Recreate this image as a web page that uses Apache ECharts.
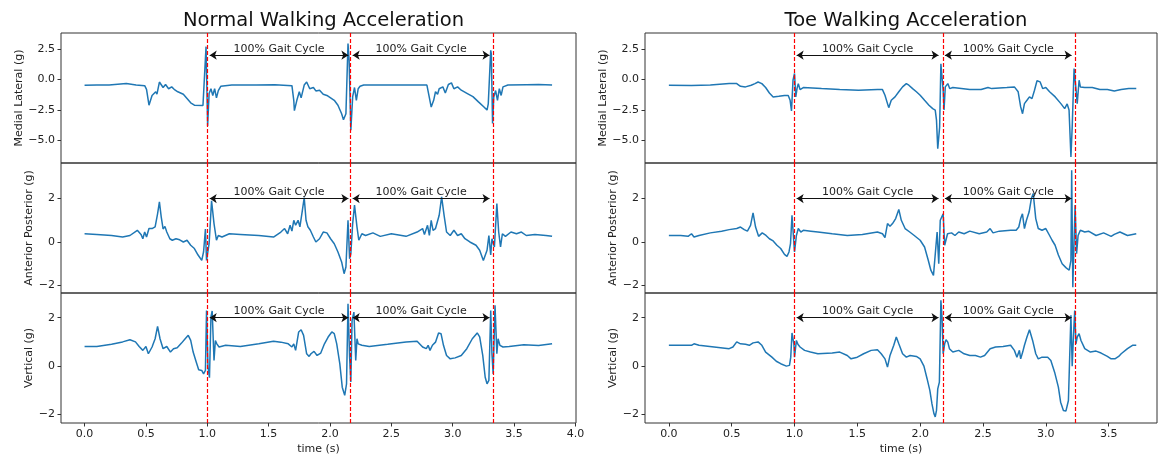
<!DOCTYPE html>
<html>
<head>
<meta charset="utf-8">
<script src="https://cdn.jsdelivr.net/npm/echarts@6/dist/echarts.min.js"></script>
<style>html,body{margin:0;padding:0;background:#fff}#c{width:1163px;height:464px}</style>
</head>
<body>
<div id="c"></div>
<script>
// ---------------- data ----------------
const panelTitles = ['Normal Walking Acceleration', 'Toe Walking Acceleration'];
const rowNames = ['Medial Lateral (g)', 'Anterior Posterior (g)', 'Vertical (g)'];
const normalTimeTicks = [0, 0.5, 1.0, 1.5, 2.0, 2.5, 3.0, 3.5, 4.0];
const toeTimeTicks = [0, 0.5, 1.0, 1.5, 2.0, 2.5, 3.0, 3.5];
const mlTicks = [-5, -2.5, 0, 2.5];
const apTicks = [-2, 0, 2];
const vTicks = [-2, 0, 2];
const normalEvents = [1.0, 2.165, 3.33];
const toeEvents = [1.0, 2.18, 3.235];
const normalArrows = [[1.02, 2.15], [2.185, 3.30]];
const toeArrows = [[1.017, 2.146], [2.197, 3.205]];
const arrowLevel = 2.0;
const arrowText = '100% Gait Cycle';

const normalML = [[0,-0.46],[0.1,-0.45],[0.2,-0.44],[0.34,-0.33],[0.42,-0.44],[0.49,-0.5],[0.505,-0.8],[0.525,-2.1],[0.55,-1.3],[0.58,-1.0],[0.59,-1.2],[0.61,-0.2],[0.64,-0.65],[0.66,-0.4],[0.685,-0.75],[0.71,-0.6],[0.73,-0.8],[0.76,-1.0],[0.805,-1.2],[0.835,-1.55],[0.865,-1.9],[0.895,-2.1],[0.965,-2.13],[0.98,-1.97],[0.99,2.7],[1.003,-3.8],[1.015,-1.15],[1.03,-0.75],[1.045,-1.3],[1.06,-0.74],[1.075,-1.5],[1.09,-0.9],[1.11,-0.55],[1.2,-0.45],[1.4,-0.44],[1.55,-0.42],[1.69,-0.5],[1.705,-1.7],[1.71,-2.55],[1.73,-1.7],[1.75,-1.0],[1.765,-1.5],[1.79,-0.45],[1.81,-0.2],[1.835,-0.75],[1.865,-0.65],[1.885,-0.93],[1.915,-0.87],[1.945,-1.2],[1.975,-1.3],[2.005,-1.5],[2.035,-1.7],[2.065,-2.1],[2.095,-2.8],[2.11,-3.3],[2.13,-2.8],[2.147,2.95],[2.156,1.6],[2.17,-4.15],[2.185,-1.4],[2.2,-0.65],[2.215,-1.7],[2.23,-0.75],[2.245,-0.55],[2.275,-0.45],[2.5,-0.44],[2.79,-0.45],[2.80,-0.6],[2.825,-2.25],[2.845,-1.7],[2.86,-1.0],[2.877,-1.2],[2.89,-0.75],[2.92,-0.6],[2.94,-1.1],[2.965,-0.4],[2.99,-0.27],[3.01,-0.75],[3.04,-0.6],[3.07,-0.87],[3.12,-1.15],[3.165,-1.4],[3.21,-1.83],[3.255,-2.25],[3.28,-2.5],[3.29,-2.0],[3.31,2.4],[3.315,2.1],[3.325,-3.6],[3.335,-1.4],[3.35,-0.9],[3.365,-1.7],[3.38,-0.75],[3.395,-1.3],[3.41,-0.6],[3.45,-0.45],[3.6,-0.42],[3.7,-0.4],[3.81,-0.45]];
const normalAP = [[0,0.38],[0.1,0.35],[0.22,0.3],[0.31,0.23],[0.37,0.3],[0.43,0.54],[0.46,0.35],[0.475,0.15],[0.49,0.46],[0.505,0.23],[0.525,0.62],[0.55,0.62],[0.575,0.7],[0.595,1.3],[0.61,1.85],[0.625,1.15],[0.64,0.6],[0.655,0.72],[0.67,0.46],[0.695,0.15],[0.715,0.08],[0.745,0.15],[0.775,0.1],[0.805,0],[0.835,0.08],[0.865,-0.15],[0.895,-0.3],[0.925,-0.6],[0.955,-0.85],[0.97,-0.45],[0.985,0.6],[0.994,-0.85],[1.015,-0.08],[1.035,1.9],[1.055,0.85],[1.075,0.08],[1.09,0.3],[1.12,0.23],[1.18,0.38],[1.27,0.35],[1.42,0.3],[1.54,0.23],[1.6,0.46],[1.63,0.62],[1.655,0.38],[1.675,0.77],[1.69,0.5],[1.705,1.0],[1.72,0.77],[1.74,1.0],[1.755,0.7],[1.775,1.46],[1.79,2.05],[1.805,1.0],[1.82,0.7],[1.84,0.54],[1.865,0.23],[1.885,0],[1.915,0.15],[1.945,0.46],[1.975,0.42],[2.005,0.15],[2.035,-0.08],[2.065,-0.46],[2.095,-0.92],[2.115,-1.46],[2.13,-1.15],[2.147,1.0],[2.16,-0.77],[2.17,-0.54],[2.185,0.85],[2.2,1.7],[2.22,0.7],[2.235,0.08],[2.26,0.38],[2.29,0.3],[2.35,0.42],[2.41,0.26],[2.5,0.38],[2.62,0.26],[2.71,0.46],[2.755,0.62],[2.77,0.35],[2.795,0.77],[2.81,0.3],[2.825,1.0],[2.84,0.54],[2.86,0.62],[2.89,1.23],[2.91,2.08],[2.93,1.23],[2.95,0.46],[2.98,0.3],[3.01,0.54],[3.04,0.3],[3.07,0.38],[3.1,0.15],[3.14,0],[3.19,-0.15],[3.22,-0.38],[3.25,-0.85],[3.265,-0.77],[3.28,-0.38],[3.295,0.3],[3.31,-0.6],[3.32,0.15],[3.34,-0.23],[3.36,1.77],[3.375,0.46],[3.39,-0.23],[3.405,0.38],[3.43,0.26],[3.475,0.46],[3.52,0.38],[3.56,0.46],[3.6,0.3],[3.67,0.35],[3.76,0.3],[3.81,0.26]];
const normalV = [[0,0.81],[0.1,0.81],[0.22,0.9],[0.31,1.0],[0.37,1.09],[0.415,1.0],[0.445,0.81],[0.475,0.65],[0.5,0.81],[0.52,0.51],[0.55,0.79],[0.575,1.13],[0.595,1.64],[0.615,1.13],[0.64,0.72],[0.67,0.81],[0.7,0.58],[0.725,0.72],[0.755,0.76],[0.79,0.95],[0.82,1.13],[0.845,1.27],[0.865,1.06],[0.885,0.58],[0.91,0.17],[0.93,-0.15],[0.955,-0.18],[0.97,-0.32],[0.985,-0.18],[0.994,2.3],[1.006,-0.04],[1.018,-0.48],[1.03,2.03],[1.04,2.28],[1.055,0.23],[1.066,1.06],[1.078,0.92],[1.096,0.79],[1.15,0.86],[1.27,0.81],[1.42,0.92],[1.54,1.03],[1.6,0.99],[1.66,0.92],[1.69,0.79],[1.705,0.92],[1.72,0.65],[1.745,1.41],[1.765,1.5],[1.785,1.27],[1.81,0.51],[1.83,0.4],[1.845,0.51],[1.87,0.61],[1.895,0.44],[1.925,0.54],[1.955,0.92],[1.985,1.2],[2.015,1.41],[2.035,1.34],[2.055,0.92],[2.08,0.1],[2.1,-0.87],[2.12,-1.21],[2.135,-0.73],[2.147,2.58],[2.16,0.37],[2.17,-0.66],[2.18,1.89],[2.195,2.23],[2.21,0.23],[2.22,1.13],[2.23,0.92],[2.26,0.86],[2.32,0.81],[2.47,0.9],[2.62,1.0],[2.71,1.03],[2.755,0.79],[2.785,0.72],[2.8,0.86],[2.815,0.65],[2.835,0.86],[2.86,0.99],[2.885,1.37],[2.905,1.34],[2.925,0.86],[2.95,0.44],[2.98,0.3],[3.02,0.34],[3.07,0.44],[3.115,0.72],[3.16,1.13],[3.2,1.37],[3.22,1.21],[3.245,0.44],[3.265,-0.46],[3.28,-0.73],[3.295,-0.59],[3.31,2.3],[3.32,0.51],[3.33,-0.32],[3.345,2.51],[3.36,0.51],[3.37,1.13],[3.385,0.86],[3.41,0.79],[3.46,0.81],[3.58,0.88],[3.7,0.85],[3.81,0.92]];
const toeML = [[0,-0.46],[0.18,-0.49],[0.33,-0.44],[0.48,-0.33],[0.54,-0.33],[0.57,-0.55],[0.61,-0.6],[0.655,-0.46],[0.685,-0.33],[0.71,-0.2],[0.74,-0.33],[0.77,-0.65],[0.8,-1.1],[0.83,-1.42],[0.875,-1.37],[0.92,-1.3],[0.95,-1.3],[0.965,-1.7],[0.976,-2.57],[0.988,-0.05],[1.0,0.5],[1.01,-1.42],[1.02,-0.74],[1.03,-0.33],[1.044,-0.82],[1.07,-0.65],[1.215,-0.74],[1.36,-0.82],[1.51,-0.87],[1.66,-0.82],[1.7,-0.82],[1.72,-1.28],[1.74,-1.97],[1.75,-2.3],[1.77,-1.7],[1.8,-1.42],[1.83,-1.0],[1.86,-0.6],[1.89,-0.33],[1.91,-0.46],[1.94,-0.74],[1.97,-1.0],[2.0,-1.28],[2.035,-1.7],[2.07,-2.1],[2.1,-2.38],[2.12,-2.5],[2.13,-3.33],[2.14,-5.66],[2.155,-3.9],[2.165,1.3],[2.175,1.45],[2.183,-0.87],[2.19,-2.5],[2.2,-0.6],[2.22,-0.33],[2.235,-0.74],[2.26,-0.65],[2.395,-0.82],[2.485,-0.82],[2.54,-0.65],[2.57,-0.74],[2.69,-0.65],[2.75,-0.6],[2.78,-1.0],[2.8,-2.24],[2.815,-2.8],[2.83,-1.97],[2.85,-1.7],[2.87,-1.42],[2.89,-1.56],[2.91,-0.87],[2.93,-0.1],[2.955,-0.19],[2.975,-0.74],[3.0,-0.65],[3.03,-1.0],[3.075,-1.42],[3.12,-1.97],[3.15,-2.38],[3.17,-2.0],[3.185,-2.5],[3.2,-6.34],[3.21,-3.9],[3.225,0.9],[3.235,1.04],[3.24,-0.74],[3.25,-1.97],[3.265,-0.05],[3.275,-0.6],[3.29,-0.46],[3.31,-0.65],[3.37,-0.65],[3.43,-0.82],[3.49,-0.82],[3.545,-0.93],[3.6,-0.82],[3.66,-0.74],[3.72,-0.74]];
const toeAP = [[0,0.3],[0.094,0.3],[0.153,0.26],[0.18,0.38],[0.2,0.23],[0.24,0.3],[0.33,0.42],[0.42,0.5],[0.48,0.57],[0.54,0.62],[0.57,0.69],[0.6,0.57],[0.625,0.5],[0.65,0.77],[0.67,1.34],[0.69,0.69],[0.714,0.26],[0.743,0.42],[0.773,0.3],[0.8,0.15],[0.83,0.05],[0.86,-0.15],[0.89,-0.3],[0.92,-0.57],[0.94,-0.66],[0.956,-0.46],[0.968,-0.08],[0.98,1.23],[0.99,1.15],[1.0,-0.46],[1.015,0.3],[1.03,0.62],[1.05,0.46],[1.07,0.54],[1.13,0.5],[1.186,0.46],[1.3,0.38],[1.42,0.3],[1.54,0.35],[1.66,0.46],[1.7,0.38],[1.72,0.2],[1.74,0.85],[1.76,0.72],[1.78,0.85],[1.805,1.08],[1.83,1.5],[1.85,1.0],[1.88,0.62],[1.917,0.46],[1.953,0.3],[2.0,0.08],[2.035,-0.23],[2.065,-0.85],[2.085,-1.3],[2.106,-1.54],[2.12,-1.46],[2.135,0.46],[2.148,-1.0],[2.16,1.0],[2.17,0.92],[2.183,1.3],[2.195,-0.15],[2.206,-0.23],[2.218,0.38],[2.25,0.42],[2.277,0.3],[2.307,0.46],[2.35,0.38],[2.395,0.5],[2.47,0.38],[2.53,0.46],[2.557,0.62],[2.58,0.42],[2.63,0.5],[2.72,0.54],[2.764,0.54],[2.785,0.69],[2.8,1.08],[2.814,1.3],[2.83,0.62],[2.846,1.0],[2.867,1.38],[2.885,2.0],[2.9,2.23],[2.92,1.08],[2.94,0.62],[2.97,0.54],[3.0,0.62],[3.03,0.3],[3.05,0.08],[3.074,-0.15],[3.1,-0.6],[3.13,-1.0],[3.16,-1.18],[3.186,-1.3],[3.2,-0.85],[3.206,3.3],[3.215,-2.08],[3.224,-0.23],[3.233,1.7],[3.245,-0.54],[3.257,0.3],[3.275,0.54],[3.31,0.46],[3.34,0.5],[3.4,0.3],[3.46,0.42],[3.52,0.26],[3.545,0.35],[3.59,0.46],[3.65,0.3],[3.72,0.38]];
const toeV = [[0,0.86],[0.09,0.86],[0.18,0.86],[0.2,0.92],[0.24,0.86],[0.36,0.79],[0.48,0.72],[0.51,0.79],[0.54,1.0],[0.57,0.92],[0.61,0.9],[0.64,0.86],[0.67,0.96],[0.71,1.0],[0.74,0.86],[0.77,0.58],[0.82,0.37],[0.855,0.2],[0.89,0.1],[0.935,0],[0.96,0.03],[0.97,0.37],[0.98,1.37],[0.995,0.92],[1.0,0.37],[1.015,1.06],[1.027,0.9],[1.044,0.79],[1.08,0.65],[1.127,0.58],[1.186,0.51],[1.3,0.54],[1.36,0.58],[1.42,0.44],[1.45,0.3],[1.5,0.37],[1.55,0.51],[1.61,0.65],[1.66,0.68],[1.69,0.51],[1.72,0.3],[1.74,-0.04],[1.76,0.44],[1.79,0.86],[1.81,1.2],[1.83,0.92],[1.86,0.51],[1.89,0.37],[1.92,0.44],[1.97,0.4],[2.0,0.3],[2.03,0],[2.055,-0.52],[2.077,-1.0],[2.094,-1.56],[2.11,-1.97],[2.12,-2.1],[2.13,-1.83],[2.14,-0.94],[2.153,-0.66],[2.165,2.72],[2.174,2.03],[2.183,0.51],[2.195,0.92],[2.206,1.09],[2.22,0.99],[2.233,0.72],[2.26,0.58],[2.307,0.65],[2.35,0.51],[2.395,0.44],[2.44,0.44],[2.48,0.37],[2.513,0.44],[2.557,0.72],[2.6,0.79],[2.66,0.81],[2.72,0.86],[2.75,0.65],[2.77,0.37],[2.79,0.65],[2.8,0.3],[2.816,0.58],[2.83,0.86],[2.85,1.2],[2.87,1.5],[2.895,1.06],[2.92,0.51],[2.94,0.3],[2.97,0.37],[3.015,0.37],[3.04,0.23],[3.07,-0.25],[3.1,-0.87],[3.118,-1.49],[3.14,-1.83],[3.16,-1.86],[3.18,-1.42],[3.19,0.37],[3.2,2.1],[3.21,0],[3.22,1.2],[3.23,2.3],[3.24,0.92],[3.25,1.2],[3.265,1.34],[3.28,1.06],[3.31,0.72],[3.355,0.58],[3.4,0.62],[3.44,0.54],[3.49,0.4],[3.52,0.3],[3.55,0.3],[3.58,0.4],[3.6,0.51],[3.65,0.72],[3.69,0.86],[3.72,0.86]];

// ---------------- layout / styles ----------------
const FONT = 'DejaVu Sans';
const TXT = '#222';
const panelLeft = [61, 645];
const panelWidth = [515, 512];
const rowTop = [33, 163, 293];
const rowHeight = 130;
const xRange = [[-0.192, 4.005], [-0.19, 3.885]];
const yRange = [[-6.84, 3.82], [-2.35, 3.64], [-2.35, 3.02]];
const yTicks = [mlTicks, apTicks, vTicks];
const yDigits = [1, 0, 0];
const yNameGap = [[36, 24, 25], [36, 24, 25]];
const panels = [
  { series: [normalML, normalAP, normalV], events: normalEvents, arrows: normalArrows, ticks: normalTimeTicks },
  { series: [toeML, toeAP, toeV], events: toeEvents, arrows: toeArrows, ticks: toeTimeTicks }
];

function fmt(v, d) {
  const s = Math.abs(v).toFixed(d);
  return v < 0 ? '\u2212' + s : s;
}

const grids = [], xAxes = [], yAxes = [], series = [], titles = [];
panels.forEach((p, pi) => {
  titles.push({
    text: panelTitles[pi],
    left: panelLeft[pi] + panelWidth[pi] / 2,
    top: 6,
    textAlign: 'center',
    textStyle: { fontFamily: FONT, fontSize: 19.5, fontWeight: 'normal', color: '#111' }
  });
  for (let r = 0; r < 3; r++) {
    const idx = pi * 3 + r;
    const bottomRow = r === 2;
    grids.push({
      left: panelLeft[pi], top: rowTop[r], width: panelWidth[pi], height: rowHeight,
      show: true, borderColor: '#333', borderWidth: 1, backgroundColor: 'transparent'
    });
    xAxes.push({
      type: 'value', gridIndex: idx, min: xRange[pi][0], max: xRange[pi][1], position: 'bottom',
      axisLine: { show: false, onZero: false }, splitLine: { show: false },
      axisTick: { show: bottomRow, customValues: p.ticks, length: 3.5, lineStyle: { color: '#333' } },
      axisLabel: { show: bottomRow, customValues: p.ticks, formatter: v => fmt(v, 1), margin: 6,
        fontFamily: FONT, fontSize: 11, color: TXT },
      name: bottomRow ? 'time (s)' : '', nameLocation: 'middle', nameGap: 21,
      nameTextStyle: { fontFamily: FONT, fontSize: 11, color: TXT }
    });
    yAxes.push({
      type: 'value', gridIndex: idx, min: yRange[r][0], max: yRange[r][1], position: 'left',
      axisLine: { show: false, onZero: false }, splitLine: { show: false },
      axisTick: { show: true, customValues: yTicks[r], length: 3.5, lineStyle: { color: '#333' } },
      axisLabel: { customValues: yTicks[r], formatter: v => fmt(v, yDigits[r]), margin: 6,
        fontFamily: FONT, fontSize: 11, color: TXT },
      name: rowNames[r], nameLocation: 'middle', nameRotate: 90, nameGap: yNameGap[pi][r],
      nameTextStyle: { fontFamily: FONT, fontSize: 11, color: TXT }
    });
    const ml = [];
    p.events.forEach(e => ml.push({
      xAxis: e, symbol: 'none',
      lineStyle: { color: '#ff0000', type: [4, 2], width: 1.2 }, label: { show: false }
    }));
    p.arrows.forEach(a => {
      const common = {
        symbol: 'arrow', symbolSize: 7,
        lineStyle: { color: '#111', width: 1, type: 'solid' },
        label: { show: true, position: 'insideMiddleTop', distance: 1, formatter: arrowText,
          fontFamily: FONT, fontSize: 11, color: TXT }
      };
      ml.push([Object.assign({ coord: [a[0], arrowLevel] }, common),
               Object.assign({ coord: [a[1], arrowLevel] }, common)]);
    });
    series.push({
      type: 'line', xAxisIndex: idx, yAxisIndex: idx, data: p.series[r],
      showSymbol: false, symbol: 'none', silent: true,
      lineStyle: { color: '#1f77b4', width: 1.5 },
      markLine: { silent: true, animation: false, symbol: ['none', 'none'], precision: 4, data: ml }
    });
  }
});

const chart = echarts.init(document.getElementById('c'), null, { renderer: 'canvas' });
chart.setOption({
  animation: false,
  backgroundColor: '#fff',
  textStyle: { fontFamily: FONT },
  title: titles,
  grid: grids,
  xAxis: xAxes,
  yAxis: yAxes,
  series: series
});
</script>
</body>
</html>
